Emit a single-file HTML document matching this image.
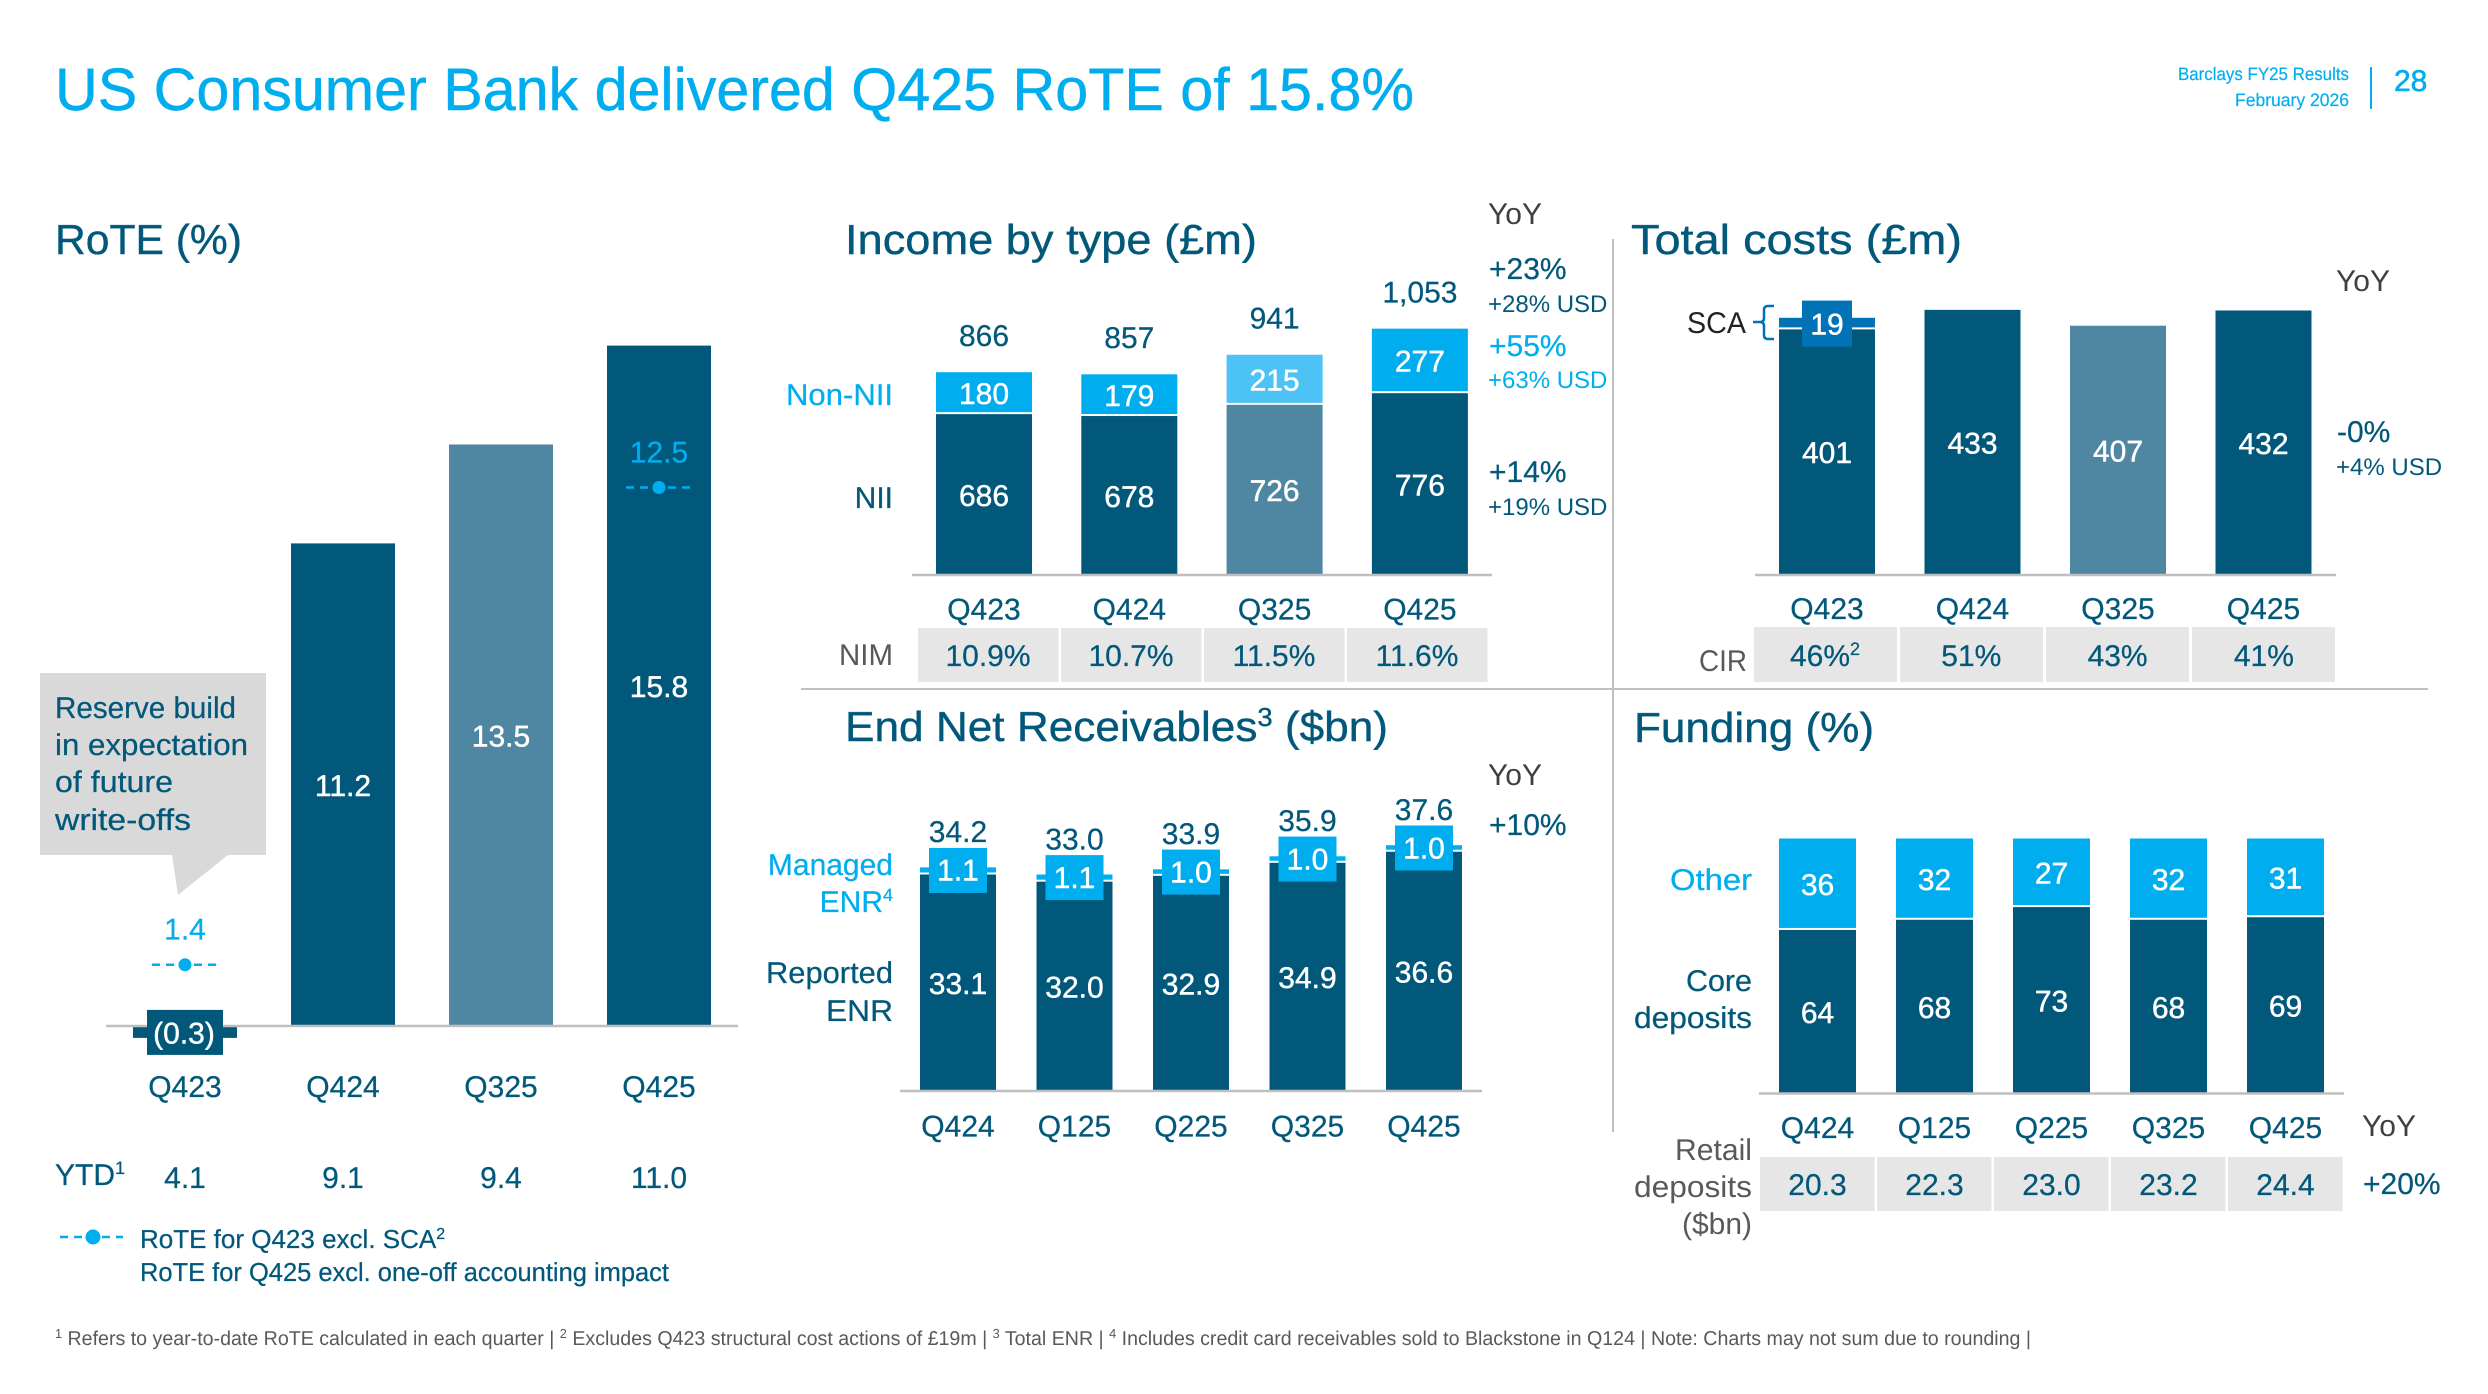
<!DOCTYPE html>
<html lang="en">
<head>
<meta charset="utf-8">
<title>US Consumer Bank delivered Q425 RoTE of 15.8%</title>
<style>
html,body{margin:0;padding:0;background:#fff;width:2488px;height:1394px;overflow:hidden}
svg{display:block;font-family:"Liberation Sans",sans-serif;text-rendering:geometricPrecision}
.h{font-size:42px;fill:#02587A;stroke:#02587A;stroke-width:.4}
.d{font-size:30px;fill:#02587A;stroke:#02587A;stroke-width:.25}
.b{font-size:30px;fill:#00AEEF;stroke:#00AEEF;stroke-width:.25}
.g{font-size:30px;fill:#595959}
.s{font-size:24px;fill:#02587A}
.sb{font-size:24px;fill:#00AEEF}
.e{text-anchor:end}
</style>
</head>
<body>
<svg id="slide" xmlns="http://www.w3.org/2000/svg" width="2488" height="1394" viewBox="0 0 2488 1394">
  <rect width="2488" height="1394" fill="#fff"/>
  <text x="55" y="110" font-size="60" fill="#00AEEF" stroke="#00AEEF" stroke-width=".5" textLength="1359" lengthAdjust="spacingAndGlyphs">US Consumer Bank delivered Q425 RoTE of 15.8%</text>
  <text x="2349" y="80" font-size="18" fill="#00AEEF" class="e" stroke="#00AEEF" stroke-width=".2" textLength="171" lengthAdjust="spacingAndGlyphs">Barclays FY25 Results</text>
  <text x="2349" y="106" font-size="18" fill="#00AEEF" class="e" stroke="#00AEEF" stroke-width=".2" textLength="114" lengthAdjust="spacingAndGlyphs">February 2026</text>
  <rect x="2370" y="67" width="2" height="42" fill="#00AEEF"/>
  <text x="2394" y="91" font-size="30" fill="#00AEEF" stroke="#00AEEF" stroke-width=".6">28</text>

  <rect x="1612" y="239" width="2" height="893" fill="#BFBFBF"/>
  <rect x="801" y="688" width="1627" height="2" fill="#BFBFBF"/>

  <!-- RoTE static -->
  <text class="h" x="55" y="254" textLength="187" lengthAdjust="spacingAndGlyphs">RoTE (%)</text>
  <g>
    <path d="M40 673H266V855H228L178 895L172 855H40Z" fill="#D9D9D9"/>
    <text x="55" y="718" font-size="30" fill="#02587A" stroke="#02587A" stroke-width=".25" textLength="181" lengthAdjust="spacingAndGlyphs">Reserve build</text>
    <text x="55" y="755" font-size="30" fill="#02587A" stroke="#02587A" stroke-width=".25" textLength="193" lengthAdjust="spacingAndGlyphs">in expectation</text>
    <text x="55" y="792" font-size="30" fill="#02587A" stroke="#02587A" stroke-width=".25" textLength="118" lengthAdjust="spacingAndGlyphs">of future</text>
    <text x="55" y="830" font-size="30" fill="#02587A" stroke="#02587A" stroke-width=".25" textLength="136" lengthAdjust="spacingAndGlyphs">write-offs</text>
  </g>
  <text class="d" x="55" y="1185">YTD<tspan font-size="18" dy="-11">1</tspan></text>
  <g>
    <line x1="60" y1="1237" x2="123" y2="1237" stroke="#00AEEF" stroke-width="2.5" stroke-dasharray="8 6"/>
    <circle cx="93" cy="1237" r="7.5" fill="#00AEEF"/>
    <text x="140" y="1248" font-size="26" fill="#02587A" stroke="#02587A" stroke-width=".25">RoTE for Q423 excl. SCA<tspan font-size="16" dy="-9">2</tspan></text>
    <text x="140" y="1281" font-size="26" fill="#02587A" stroke="#02587A" stroke-width=".25" textLength="529" lengthAdjust="spacingAndGlyphs">RoTE for Q425 excl. one-off accounting impact</text>
  </g>

  <!-- Income static -->
  <text class="h" x="845" y="254" textLength="412" lengthAdjust="spacingAndGlyphs">Income by type (£m)</text>
  <text class="b e" x="893" y="405" textLength="107" lengthAdjust="spacingAndGlyphs">Non-NII</text>
  <text class="d e" x="893" y="508">NII</text>
  <text class="g e" x="893" y="665" textLength="54" lengthAdjust="spacingAndGlyphs">NIM</text>
  <text x="1488" y="224" font-size="30" fill="#404040">YoY</text>
  <text class="d" x="1489" y="279">+23%</text>
  <text class="s" x="1488" y="312">+28% USD</text>
  <text class="b" x="1489" y="356">+55%</text>
  <text class="sb" x="1488" y="388">+63% USD</text>
  <text class="d" x="1489" y="482">+14%</text>
  <text class="s" x="1488" y="515">+19% USD</text>

  <!-- Costs static -->
  <text class="h" x="1631" y="254" textLength="331" lengthAdjust="spacingAndGlyphs">Total costs (£m)</text>
  <text x="1746" y="333" font-size="30" fill="#222" class="e" textLength="59" lengthAdjust="spacingAndGlyphs">SCA</text>
  <path d="M1774 306H1768Q1764 306 1764 310V318Q1764 322 1760 322H1753M1760 322Q1764 322 1764 326V335Q1764 339 1768 339H1774" fill="none" stroke="#0072B5" stroke-width="2.5"/>
  <text class="g e" x="1747" y="671" textLength="48" lengthAdjust="spacingAndGlyphs">CIR</text>
  <text x="2336" y="291" font-size="30" fill="#404040">YoY</text>
  <text class="d" x="2337" y="442">-0%</text>
  <text class="s" x="2336" y="475">+4% USD</text>

  <!-- ENR static -->
  <text class="h" x="845" y="741" textLength="543" lengthAdjust="spacingAndGlyphs">End Net Receivables<tspan font-size="26" dy="-15">3</tspan><tspan dy="15"> ($bn)</tspan></text>
  <text class="b e" x="893" y="875">Managed</text>
  <text class="b e" x="893" y="912">ENR<tspan font-size="18" dy="-11">4</tspan></text>
  <text class="d e" x="893" y="983" textLength="127" lengthAdjust="spacingAndGlyphs">Reported</text>
  <text class="d e" x="893" y="1021" textLength="67" lengthAdjust="spacingAndGlyphs">ENR</text>
  <text x="1488" y="785" font-size="30" fill="#404040">YoY</text>
  <text class="d" x="1489" y="835">+10%</text>

  <!-- Funding static -->
  <text class="h" x="1634" y="742" textLength="240" lengthAdjust="spacingAndGlyphs">Funding (%)</text>
  <text class="b e" x="1752" y="890" textLength="82" lengthAdjust="spacingAndGlyphs">Other</text>
  <text class="d e" x="1752" y="991" textLength="66" lengthAdjust="spacingAndGlyphs">Core</text>
  <text class="d e" x="1752" y="1028" textLength="118" lengthAdjust="spacingAndGlyphs">deposits</text>
  <text class="g e" x="1752" y="1160" textLength="77" lengthAdjust="spacingAndGlyphs">Retail</text>
  <text class="g e" x="1752" y="1197" textLength="118" lengthAdjust="spacingAndGlyphs">deposits</text>
  <text class="g e" x="1752" y="1234" textLength="70" lengthAdjust="spacingAndGlyphs">($bn)</text>
  <text x="2362" y="1136" font-size="30" fill="#404040">YoY</text>
  <text class="d" x="2363" y="1194">+20%</text>

  <text x="55" y="1345" font-size="20" fill="#595959" textLength="1976" lengthAdjust="spacingAndGlyphs"><tspan font-size="13" dy="-7">1</tspan><tspan dy="7"> Refers to year-to-date RoTE calculated in each quarter | </tspan><tspan font-size="13" dy="-7">2</tspan><tspan dy="7"> Excludes Q423 structural cost actions of £19m | </tspan><tspan font-size="13" dy="-7">3</tspan><tspan dy="7"> Total ENR | </tspan><tspan font-size="13" dy="-7">4</tspan><tspan dy="7"> Includes credit card receivables sold to Blackstone in Q124 | Note: Charts may not sum due to rounding |</tspan></text>

  <g id="charts"></g>
</svg>

<script>
// RoTE chart data
const roteCats = ['Q423','Q424','Q325','Q425'];
const roteValues = [-0.3,11.2,13.5,15.8];
const roteExcl = [1.4,null,null,12.5];
const roteYtd = ['4.1','9.1','9.4','11.0'];
// Income chart data
const incomeCats = ['Q423','Q424','Q325','Q425'];
const incomeNii = [686,678,726,776];
const incomeNonNii = [180,179,215,277];
const incomeTotals = ['866','857','941','1,053'];
const nimValues = ['10.9%','10.7%','11.5%','11.6%'];
// Costs chart data
const costCats = ['Q423','Q424','Q325','Q425'];
const costValues = [401,433,407,432];
const costSca = [19,0,0,0];
const cirValues = ['46%','51%','43%','41%'];
// End net receivables chart data
const enrCats = ['Q424','Q125','Q225','Q325','Q425'];
const enrReported = [33.1,32.0,32.9,34.9,36.6];
const enrManaged = [1.1,1.1,1.0,1.0,1.0];
const enrTotals = ['34.2','33.0','33.9','35.9','37.6'];
// Funding chart data
const fundCats = ['Q424','Q125','Q225','Q325','Q425'];
const fundCore = [64,68,73,68,69];
const fundOther = [36,32,27,32,31];
const retailValues = ['20.3','22.3','23.0','23.2','24.4'];

const NS = 'http://www.w3.org/2000/svg';
const root = document.getElementById('charts');
const DARK = '#02587A', MID = '#4F87A3', SKY = '#00AEEF', PALE = '#4DC3F5', SCA = '#0072B5', AXIS = '#BFBFBF', CELL = '#E6E6E6';

function bar(x, y, w, h, fill, name) {
  const el = document.createElementNS(NS, 'rect');
  el.setAttribute('x', x);
  el.setAttribute('y', y);
  el.setAttribute('width', w);
  el.setAttribute('height', Math.max(0, h));
  el.setAttribute('fill', fill);
  
  
  root.appendChild(el);
  return el;
}
function label(cx, cy, str, fill, name, size) {
  const fs = size || 30;
  const el = document.createElementNS(NS, 'text');
  el.setAttribute('x', cx);
  el.setAttribute('y', cy + fs * 0.36);
  el.setAttribute('text-anchor', 'middle');
  el.setAttribute('font-size', fs);
  el.setAttribute('fill', fill);
  el.setAttribute('stroke', fill);
  el.setAttribute('stroke-width', fill === '#fff' ? 0.45 : 0.25);
  el.textContent = str;
  
  
  root.appendChild(el);
  return el;
}
function axisLine(x1, x2, y, name) {
  bar(x1, y - 1.25, x2 - x1, 2.5, AXIS, name);
}
function fmt(v) { return v.toFixed(1); }

/* ---- RoTE ---- */
(function () {
  const base = 1025, k = 43, c0 = 185, step = 158, w = 104;
  const y = v => base - v * k;
  const xc = i => c0 + i * step;
  roteValues.forEach((v, i) => {
    const fill = roteCats[i] === 'Q325' ? MID : DARK;
    const top = Math.min(y(v), base), h = Math.abs(v) * k;
    bar(xc(i) - w / 2, top, w, h, fill, 'rote-bar-' + roteCats[i].toLowerCase());
    if (v >= 0) label(xc(i), (top + base) / 2 + 1, fmt(v), '#fff', 'rote-value-' + roteCats[i].toLowerCase());
  });
  axisLine(106, 738, 1026, 'rote-axis');
  roteValues.forEach((v, i) => {
    if (v < 0) {
      bar(xc(i) - 38, y(v) - 28, 76, 45, DARK, 'rote-negative-label-box');
      label(xc(i) - 1, y(v) - 5, '(' + fmt(Math.abs(v)) + ')', '#fff', 'rote-value-' + roteCats[i].toLowerCase());
    }
  });
  roteExcl.forEach((v, i) => {
    if (v === null) return;
    const dash = document.createElementNS(NS, 'line');
    dash.setAttribute('x1', xc(i) - 33);
    dash.setAttribute('x2', xc(i) + 37);
    dash.setAttribute('y1', y(v));
    dash.setAttribute('y2', y(v));
    dash.setAttribute('stroke', SKY);
    dash.setAttribute('stroke-width', 2.5);
    dash.setAttribute('stroke-dasharray', '8 6');
    
    
    root.appendChild(dash);
    const dot = document.createElementNS(NS, 'circle');
    dot.setAttribute('cx', xc(i));
    dot.setAttribute('cy', y(v));
    dot.setAttribute('r', 6.5);
    dot.setAttribute('fill', SKY);
    
    
    root.appendChild(dot);
    label(xc(i), y(v) - 36, fmt(v), SKY, 'rote-excl-value');
  });
  roteCats.forEach((c, i) => {
    label(xc(i), 1086, c, DARK, 'rote-category-label');
    label(xc(i), 1177, roteYtd[i], DARK, 'rote-ytd-value');
  });
})();

/* ---- Income ---- */
(function () {
  const base = 574, k = 0.233, c0 = 984, step = 145.3, w = 96;
  const y = v => base - v * k;
  const xc = i => c0 + i * step;
  incomeCats.forEach((c, i) => {
    const mid = c === 'Q325';
    const nii = incomeNii[i], non = incomeNonNii[i];
    bar(xc(i) - w / 2, y(nii), w, nii * k, mid ? MID : DARK, 'nii-bar-' + c.toLowerCase());
    bar(xc(i) - w / 2, y(nii + non), w, non * k - 2, mid ? PALE : SKY, 'non-nii-bar-' + c.toLowerCase());
    label(xc(i), (y(nii) + base) / 2 + 1, String(nii), '#fff', 'nii-value');
    label(xc(i), (y(nii) + y(nii + non)) / 2, String(non), '#fff', 'non-nii-value');
    label(xc(i), y(nii + non) - 37, incomeTotals[i], DARK, 'income-total');
    label(xc(i), 608.5, c, DARK, 'income-category-label');
    bar(918 + i * 143, 628, 140.5, 54, CELL, 'nim-cell');
    label(988 + i * 143, 655, nimValues[i], DARK, 'nim-value');
  });
  axisLine(912, 1492, 575, 'income-axis');
})();

/* ---- Costs ---- */
(function () {
  const base = 574, k = 0.61, c0 = 1827, step = 145.5, w = 96;
  const y = v => base - v * k;
  const xc = i => c0 + i * step;
  costCats.forEach((c, i) => {
    const v = costValues[i], s = costSca[i];
    bar(xc(i) - w / 2, y(v), w, v * k, c === 'Q325' ? MID : DARK, 'cost-bar-' + c.toLowerCase());
    if (s > 0) {
      bar(xc(i) - w / 2, y(v + s), w, s * k - 2, SCA, 'sca-bar');
      bar(xc(i) - 25, y(v + s / 2) - 23, 50, 46, SCA, 'sca-label-box');
      label(xc(i), y(v + s / 2), String(s), '#fff', 'sca-value');
      label(xc(i), 452, String(v), '#fff', 'cost-value');
    } else {
      label(xc(i), (y(v) + base) / 2 + 1, String(v), '#fff', 'cost-value');
    }
    label(xc(i), 608, c, DARK, 'cost-category-label');
    bar(1754 + i * 146, 627, 143, 55, CELL, 'cir-cell');
    const t = label(1825 + i * 146.3, 655, cirValues[i], DARK, 'cir-value');
    if (i === 0) {
      const sup = document.createElementNS(NS, 'tspan');
      sup.setAttribute('font-size', 18);
      sup.setAttribute('dy', -11);
      sup.textContent = '2';
      t.appendChild(sup);
    }
  });
  axisLine(1755, 2336, 575, 'costs-axis');
})();

/* ---- End net receivables ---- */
(function () {
  const base = 1090, k = 6.51, c0 = 958, step = 116.5, w = 76;
  const y = v => base - v * k;
  const xc = i => c0 + i * step;
  enrCats.forEach((c, i) => {
    const r = enrReported[i], m = enrManaged[i];
    bar(xc(i) - w / 2, y(r), w, r * k, DARK, 'reported-enr-bar-' + c.toLowerCase());
    bar(xc(i) - w / 2, y(r + m), w, m * k - 2, SKY, 'managed-enr-bar-' + c.toLowerCase());
    bar(xc(i) - 29, y(r + m / 2) - 23, 58, 45, SKY, 'managed-enr-label-box');
    label(xc(i), y(r + m / 2) - 1, fmt(m), '#fff', 'managed-enr-value');
    label(xc(i), (y(r) + base) / 2 + 1, fmt(r), '#fff', 'reported-enr-value');
    label(xc(i), y(r + m / 2) - 39.5, enrTotals[i], DARK, 'enr-total');
    label(xc(i), 1125.5, c, DARK, 'enr-category-label');
  });
  axisLine(900, 1482, 1091, 'enr-axis');
})();

/* ---- Funding ---- */
(function () {
  const base = 1092.5, k = 2.54, c0 = 1817.5, step = 117, w = 77;
  const y = v => base - v * k;
  const xc = i => c0 + i * step;
  fundCats.forEach((c, i) => {
    const core = fundCore[i], other = fundOther[i];
    bar(xc(i) - w / 2, y(core), w, core * k, DARK, 'core-deposits-bar-' + c.toLowerCase());
    bar(xc(i) - w / 2, y(core + other), w, other * k - 2, SKY, 'other-funding-bar-' + c.toLowerCase());
    label(xc(i), (y(core) + base) / 2 + 1, String(core), '#fff', 'core-deposits-value');
    label(xc(i), (y(core) + y(core + other)) / 2, String(other), '#fff', 'other-funding-value');
    label(xc(i), 1127, c, DARK, 'funding-category-label');
    bar(1760 + i * 117, 1157, 114.5, 54, CELL, 'retail-deposits-cell');
    label(1817.5 + i * 117, 1184, retailValues[i], DARK, 'retail-deposits-value');
  });
  axisLine(1759, 2344, 1093.5, 'funding-axis');
})();
</script>
</body>
</html>
